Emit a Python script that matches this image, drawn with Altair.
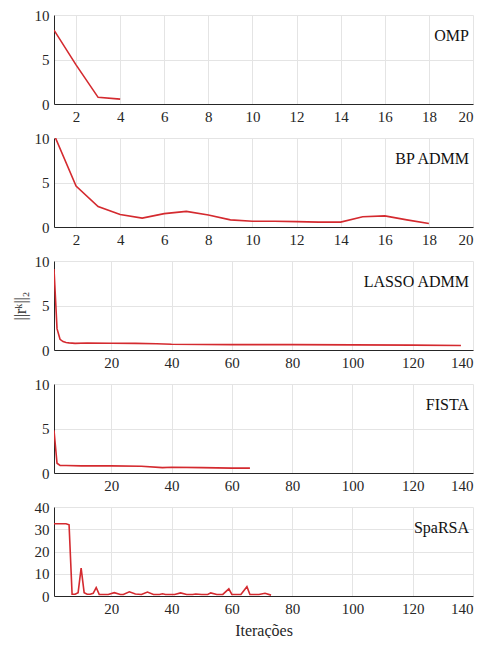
import altair as alt
import pandas as pd

RED = "#d42a2f"
FONT = "Liberation Serif"

omp_x = [1, 2, 3, 4]
omp_y = [8.3, 4.4, 0.75, 0.55]

bp_x = list(range(1, 19))
bp_y = [10.4, 4.6, 2.3, 1.4, 1.0, 1.5, 1.75, 1.35, 0.8, 0.65, 0.65, 0.6, 0.55, 0.55, 1.15, 1.25, 0.8, 0.4]

lasso_x = [1, 2, 3, 4, 5, 6, 8, 12, 20, 28, 35, 40, 60, 80, 100, 120, 136]
lasso_y = [9.1, 2.4, 1.2, 0.95, 0.85, 0.8, 0.75, 0.78, 0.75, 0.75, 0.7, 0.65, 0.6, 0.6, 0.58, 0.55, 0.5]

fista_x = [1, 2, 3, 5, 10, 20, 30, 37, 40, 50, 60, 66]
fista_y = [4.8, 1.1, 0.85, 0.85, 0.8, 0.8, 0.75, 0.6, 0.65, 0.6, 0.55, 0.55]

sparsa_x = [1, 2, 3, 4, 5, 6, 7, 8, 9, 10, 11, 12, 13, 14, 15, 16, 19, 21, 23, 24, 26, 28, 30, 32,
            34, 36, 37, 38, 41, 43, 45, 47, 48, 50, 52, 53, 55, 57, 59, 60, 63, 65, 66, 69, 71, 73]
sparsa_y = [32.5, 32.5, 32.5, 32.5, 32.5, 32.0, 0.8, 0.8, 1.5, 12.5, 1.5, 0.8, 0.8, 1.2, 3.8, 0.7, 0.7, 1.5, 0.7, 0.7, 1.9, 0.9, 0.7, 1.8,
            0.7, 0.7, 1.0, 0.7, 0.7, 1.4, 0.7, 0.7, 0.9, 0.7, 0.7, 1.4, 0.7, 0.7, 3.2, 0.7, 0.7, 4.2, 0.7, 0.7, 1.2, 0.4]

names = ["OMP", "BP ADMM", "LASSO ADMM", "FISTA", "SpaRSA"]
small_ticks = [2, 4, 6, 8, 10, 12, 14, 16, 18, 20]
big_ticks = [20, 40, 60, 80, 100, 120, 140]

W, H = 419, 89


def ax(values, title):
    return alt.Axis(values=values, title=title, labelFont=FONT, titleFont=FONT,
                    labelFontSize=15, titleFontSize=16, labelColor="#262626",
                    titleColor="#262626", titleFontWeight="normal")


def panel(xs, ys, name, xdom, xticks, ydom, yticks, ytitle="", xtitle=""):
    df = pd.DataFrame({"x": xs, "y": ys})
    line = alt.Chart(df).mark_line(color=RED, strokeWidth=1.6, clip=True).encode(
        x=alt.X("x:Q", scale=alt.Scale(domain=xdom, nice=False, zero=False), axis=ax(xticks, xtitle)),
        y=alt.Y("y:Q", scale=alt.Scale(domain=ydom, nice=False), axis=ax(yticks, ytitle)),
    )
    lab = alt.Chart(pd.DataFrame({"label": [name]})).mark_text(
        align="right", baseline="middle", font=FONT, fontSize=16, color="#111111"
    ).encode(x=alt.value(W - 4), y=alt.value(21), text="label:N")
    return alt.layer(line, lab).properties(width=W, height=H)


p1 = panel(omp_x, omp_y, names[0], [1, 20], small_ticks, [0, 10], [0, 5, 10])
p2 = panel(bp_x, bp_y, names[1], [1, 20], small_ticks, [0, 10], [0, 5, 10])
p3 = panel(lasso_x, lasso_y, names[2], [1, 140], big_ticks, [0, 10], [0, 5, 10], ytitle="||rᵏ||₂")
p4 = panel(fista_x, fista_y, names[3], [1, 140], big_ticks, [0, 10], [0, 5, 10])
p5 = panel(sparsa_x, sparsa_y, names[4], [1, 140], big_ticks, [0, 40], [0, 10, 20, 30, 40], xtitle="Iterações")

chart = alt.vconcat(p1, p2, p3, p4, p5, spacing=34, bounds="flush").properties(
    padding={"left": 4, "top": 0, "right": 2, "bottom": 0}
).configure(font=FONT).configure_view(strokeWidth=0).configure_axis(
    gridColor="#e4e4e4", gridWidth=1, domainColor="#262626", domainWidth=1,
    ticks=False, labelPadding=5, titlePadding=6,
)

chart.save("out.html", embed_options={"renderer": "svg", "actions": False})
